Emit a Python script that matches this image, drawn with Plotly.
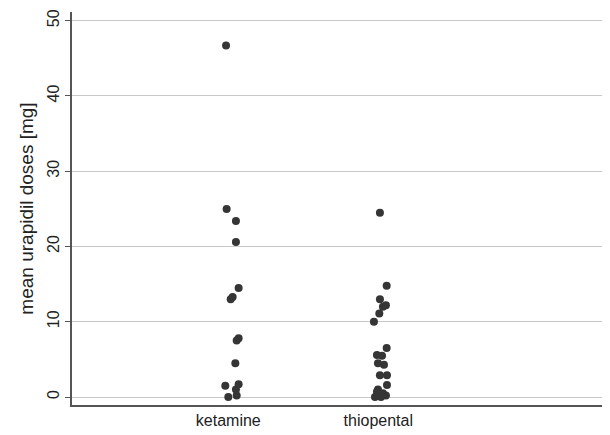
import plotly.graph_objects as go

categories = ["ketamine", "thiopental"]
cat_pos = [1, 2]

ketamine_values = [46.7, 25.0, 23.4, 20.6, 14.5, 13.3, 13.0, 7.8, 7.5, 4.5, 1.5, 1.7, 1.0, 0.0, 0.2]
ketamine_jitter = [-0.015, -0.011, 0.051, 0.051, 0.069, 0.029, 0.016, 0.069, 0.056, 0.047, -0.02, 0.069, 0.051, 0.0, 0.056]

thiopental_values = [24.5, 14.8, 13.0, 12.2, 12.0, 11.1, 10.0, 6.5, 5.6, 5.5, 4.5, 4.3, 2.9, 2.9, 1.6, 1.0, 0.7, 0.5, 0.2, 0.0, 0.0]
thiopental_jitter = [0.011, 0.056, 0.011, 0.051, 0.031, 0.007, -0.029, 0.056, -0.009, 0.025, -0.002, 0.038, 0.011, 0.058, 0.058, -0.002, -0.009, 0.031, 0.051, -0.022, 0.018]

y_ticks = [0, 10, 20, 30, 40, 50]

fig = go.Figure()
for pos, vals, jit in [(cat_pos[0], ketamine_values, ketamine_jitter),
                       (cat_pos[1], thiopental_values, thiopental_jitter)]:
    fig.add_trace(go.Scatter(
        x=[pos + j for j in jit], y=vals, mode="markers",
        marker=dict(color="#353535", size=8, line=dict(width=0)),
        showlegend=False, hoverinfo="y"))

font_family = "Liberation Sans, Arial, sans-serif"
fig.update_layout(
    width=602, height=427,
    margin=dict(l=64, r=0, t=4, b=30),
    paper_bgcolor="white", plot_bgcolor="white",
    font=dict(family=font_family, color="#222222"),
    xaxis=dict(range=[-0.042, 3.545], tickvals=cat_pos, ticktext=categories,
               showgrid=False, zeroline=False, showline=True, linecolor="#555555",
               linewidth=1.5, ticks="", tickfont=dict(size=16, color="#222222")),
    yaxis=dict(range=[-1.06, 51.16], tickvals=y_ticks, tickangle=-90,
               showgrid=True, gridcolor="#c8c8c8", gridwidth=1.2, zeroline=False,
               showline=True, linecolor="#555555", linewidth=1.5,
               ticks="outside", ticklen=5, tickcolor="#555555",
               tickfont=dict(size=16, color="#222222"),
               title=dict(text="mean urapidil doses [mg]", font=dict(size=19, color="#222222"),
                          standoff=6)),
)

fig.write_html("out.html")
